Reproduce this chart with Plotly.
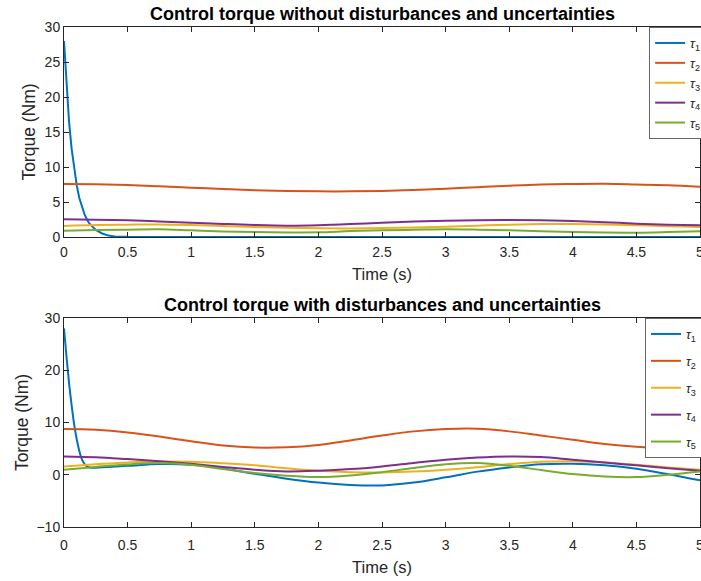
import plotly.graph_objects as go

# ---------------- data ----------------
t_grid = [0, 0.25, 0.5, 0.75, 1, 1.25, 1.5, 1.75, 2, 2.25, 2.5, 2.75,
          3, 3.25, 3.5, 3.75, 4, 4.25, 4.5, 4.75, 5]

# Top: without disturbances
t_tau1_top = [0, 0.02, 0.04, 0.06, 0.08, 0.1, 0.12, 0.14, 0.16, 0.18, 0.2,
              0.25, 0.3, 0.35, 0.4, 0.5, 1, 2, 3, 4, 5]
tau1_top = [28, 21.5, 16.4, 12.6, 9.6, 7.4, 5.6, 4.3, 3.3, 2.5, 1.9,
            1.0, 0.5, 0.2, 0.08, 0.02, 0, 0, 0, 0, 0]
tau2_top = [7.57, 7.52, 7.42, 7.25, 7.05, 6.85, 6.67, 6.57, 6.52, 6.52, 6.58, 6.72,
            6.9, 7.12, 7.33, 7.5, 7.57, 7.6, 7.5, 7.38, 7.19]
tau3_top = [1.57, 1.7, 1.76, 1.8, 1.71, 1.58, 1.43, 1.32, 1.24, 1.22, 1.27, 1.36,
            1.48, 1.62, 1.76, 1.84, 1.86, 1.8, 1.67, 1.55, 1.43]
tau4_top = [2.52, 2.47, 2.38, 2.22, 2.05, 1.87, 1.71, 1.62, 1.68, 1.84, 2.05, 2.2,
            2.33, 2.41, 2.43, 2.38, 2.29, 2.12, 1.9, 1.76, 1.67]
tau5_top = [0.9, 0.99, 1.05, 1.1, 0.95, 0.8, 0.71, 0.66, 0.67, 0.84, 0.95, 1.03,
            1.1, 1.05, 0.95, 0.82, 0.71, 0.64, 0.62, 0.7, 0.81]

# Bottom: with disturbances
t_tau1_bot = [0, 0.02, 0.04, 0.06, 0.08, 0.1, 0.12, 0.14, 0.16, 0.18, 0.2, 0.25,
              0.5, 0.75, 1, 1.25, 1.5, 1.75, 2, 2.25, 2.5, 2.75,
              3, 3.25, 3.5, 3.75, 4, 4.25, 4.5, 4.75, 5]
tau1_bot = [28, 22.5, 17.5, 13.3, 9.6, 6.8, 4.6, 3.0, 2.1, 1.6, 1.4, 1.35,
            1.7, 2.05, 1.9, 1.2, 0.2, -0.75, -1.5, -1.95, -2.04, -1.5,
            -0.5, 0.6, 1.4, 2.0, 2.1, 1.8, 1.15, 0.1, -1.08]
tau2_bot = [8.74, 8.6, 8.1, 7.3, 6.4, 5.6, 5.2, 5.25, 5.7, 6.57, 7.5, 8.3,
            8.74, 8.8, 8.3, 7.5, 6.7, 5.9, 5.36, 5.05, 4.95]
tau3_bot = [1.6, 2.0, 2.36, 2.55, 2.5, 2.2, 1.8, 1.25, 0.77, 0.5, 0.45, 0.6,
            0.96, 1.45, 2.04, 2.5, 2.6, 2.35, 1.9, 1.4, 0.96]
tau4_bot = [3.5, 3.35, 3.0, 2.6, 2.1, 1.5, 0.96, 0.64, 0.77, 1.08, 1.6, 2.25,
            2.87, 3.3, 3.5, 3.4, 2.87, 2.35, 1.8, 1.25, 0.77]
tau5_bot = [0.96, 1.5, 1.98, 2.23, 1.9, 1.1, 0.32, -0.2, -0.45, -0.13, 0.5, 1.3,
            2.0, 2.23, 1.72, 0.9, 0.13, -0.35, -0.45, 0.0, 0.64]

names = ["<i>τ</i><sub>1</sub>", "<i>τ</i><sub>2</sub>", "<i>τ</i><sub>3</sub>",
         "<i>τ</i><sub>4</sub>", "<i>τ</i><sub>5</sub>"]
colors = ["#0072BD", "#D95319", "#EDB120", "#7E2F8E", "#77AC30"]

titles = ["Control torque without disturbances and uncertainties",
          "Control torque with disturbances and uncertainties"]
x_ticks = [0, 0.5, 1, 1.5, 2, 2.5, 3, 3.5, 4, 4.5, 5]
y_ticks_top = [0, 5, 10, 15, 20, 25, 30]
y_ticks_bot = [-10, 0, 10, 20, 30]

# ---------------- figure ----------------
fig = go.Figure()

top_series = [(t_tau1_top, tau1_top), (t_grid, tau2_top), (t_grid, tau3_top),
              (t_grid, tau4_top), (t_grid, tau5_top)]
bot_series = [(t_tau1_bot, tau1_bot), (t_grid, tau2_bot), (t_grid, tau3_bot),
              (t_grid, tau4_bot), (t_grid, tau5_bot)]

for i, (tx, ty) in enumerate(top_series):
    fig.add_trace(go.Scatter(x=tx, y=ty, mode="lines", name=names[i],
                             line=dict(color=colors[i], width=2,
                                       shape="linear" if i == 0 else "spline"),
                             xaxis="x", yaxis="y", legend="legend",
                             legendgroup="a%d" % i))
for i, (tx, ty) in enumerate(bot_series):
    fig.add_trace(go.Scatter(x=tx, y=ty, mode="lines", name=names[i],
                             line=dict(color=colors[i], width=2,
                                       shape="spline"),
                             xaxis="x2", yaxis="y2", legend="legend2",
                             legendgroup="b%d" % i))

FONT = "Liberation Sans, Arial, sans-serif"
axcol = "#262626"

common_ax = dict(showline=True, linecolor=axcol, linewidth=1, mirror="ticks",
                 ticks="inside", ticklen=5, tickcolor=axcol, showgrid=False,
                 zeroline=False, ticklabeloverflow="allow",
                 tickfont=dict(family=FONT, size=14, color=axcol))

fig.update_layout(
    width=701, height=581,
    margin=dict(l=64, r=1, t=27, b=54, autoexpand=False),
    paper_bgcolor="white", plot_bgcolor="white",
    font=dict(family=FONT, color=axcol),
    xaxis=dict(domain=[0, 1], range=[0, 5], tickvals=x_ticks, anchor="y",
               ticklabelstandoff=2,
               title=dict(text="Time (s)", font=dict(size=16.5, color=axcol), standoff=9),
               **common_ax),
    yaxis=dict(domain=[0.58, 1.0], range=[0, 30], tickvals=y_ticks_top, anchor="x",
               title=dict(text="Torque (Nm)", font=dict(size=17.5, color=axcol), standoff=4),
               **common_ax),
    xaxis2=dict(domain=[0, 1], range=[0, 5], tickvals=x_ticks, anchor="y2",
                ticklabelstandoff=5,
                title=dict(text="Time (s)", font=dict(size=16.5, color=axcol), standoff=9),
                **common_ax),
    yaxis2=dict(domain=[0, 0.418], range=[-10, 30], tickvals=y_ticks_bot, anchor="x2",
                title=dict(text="Torque (Nm)", font=dict(size=17.5, color=axcol), standoff=3),
                **common_ax),
    legend=dict(x=0.92, y=1.0, xanchor="left", yanchor="top",
                bgcolor="white", bordercolor="#666666", borderwidth=1,
                font=dict(family=FONT, size=13, color=axcol),
                tracegroupgap=0, itemwidth=30),
    legend2=dict(x=0.9135, y=0.418, xanchor="left", yanchor="top",
                 bgcolor="white", bordercolor="#666666", borderwidth=1,
                 font=dict(family=FONT, size=13, color=axcol),
                 tracegroupgap=7, itemwidth=30),
    showlegend=True,
    annotations=[
        dict(text="<b>%s</b>" % titles[0], x=0.5, y=1.0, xref="paper", yref="paper",
             xanchor="center", yanchor="bottom", yshift=1, showarrow=False,
             font=dict(family=FONT, size=18, color="black")),
        dict(text="<b>%s</b>" % titles[1], x=0.5, y=0.418, xref="paper", yref="paper",
             xanchor="center", yanchor="bottom", yshift=1, showarrow=False,
             font=dict(family=FONT, size=18, color="black")),
    ],
)

fig.write_html("out.html")
